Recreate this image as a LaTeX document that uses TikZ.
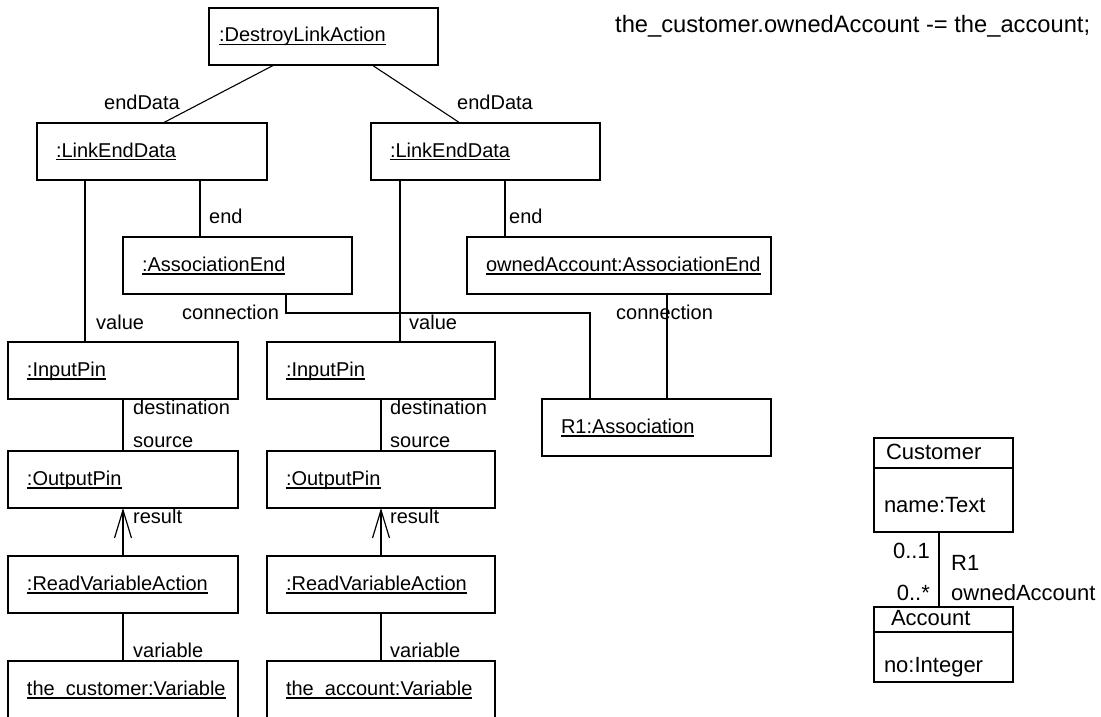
\documentclass[tikz,border=0pt]{standalone}
\usepackage{fontspec}
\setmainfont{Liberation Sans}
\usetikzlibrary{positioning,arrows.meta}

% underlined object name, line just under the baseline
\newsavebox\namebox
\newcommand\objname[1]{\sbox\namebox{#1}\rlap{\rule[-3.5pt]{\wd\namebox}{1.3pt}}\usebox\namebox}

\begin{document}
\begin{tikzpicture}[x=1pt,y=-1pt,
  obj/.style={draw, line width=1.8pt, anchor=north west, minimum height=57pt,
    inner xsep=19pt, inner ysep=0pt, outer sep=0pt, text width=#1, align=left,
    text height=15pt, text depth=4pt, font=\fontsize{20}{24}\selectfont},
  obj/.default=192pt,
  lbl/.style={anchor=base west, inner sep=0pt, font=\fontsize{20}{24}\selectfont},
  link/.style={line width=1.8pt},
  thinlink/.style={line width=1.1pt},
  clshead/.style={draw, line width=1.8pt, anchor=north west, minimum height=30pt,
    inner xsep=12pt, inner ysep=0pt, outer sep=0pt, text width=115pt, align=left,
    text height=17pt, text depth=4pt, font=\fontsize{22}{26}\selectfont},
  clsbody/.style={draw, line width=1.8pt, anchor=north west, inner xsep=10pt,
    inner ysep=0pt, outer sep=0pt, text width=119pt, align=left, text depth=4pt,
    font=\fontsize{22}{26}\selectfont},
  clslbl/.style={anchor=base west, inner sep=0pt, font=\fontsize{22}{26}\selectfont}]
\useasboundingbox[fill=white] (0,0) rectangle (1101,717);

\node[anchor=base west, inner sep=0pt, font=\fontsize{23.7}{28}\selectfont] (stmt) at (615,33)
  {the\_customer.ownedAccount -= the\_account;};

% action and its two link ends
\node[obj=209pt, inner xsep=10pt] (dla) at (209,8) {\objname{:DestroyLinkAction}};
\node[obj] (led1) at (37,123) {\objname{:LinkEndData}};
\node[obj=191pt] (led2) at (371,123) {\objname{:LinkEndData}};
\node[obj=191pt] (aend1) at (123,237) {\objname{:AssociationEnd}};
\node[obj=266pt] (aend2) at (467,237) {\objname{ownedAccount:AssociationEnd}};
\node[obj=191pt] (assoc) at (542,399) {\objname{R1:Association}};

% pins and variable reads, left column
\node[obj] (in1) at (8,342) {\objname{:InputPin}};
\node[obj] (out1) at (8,451) {\objname{:OutputPin}};
\node[obj] (rva1) at (8,556) {\objname{:ReadVariableAction}};
\node[obj] (var1) at (8,661) {\objname{the\_customer:Variable}};

% right column
\node[obj=190pt] (in2) at (267,342) {\objname{:InputPin}};
\node[obj=190pt] (out2) at (267,451) {\objname{:OutputPin}};
\node[obj=190pt] (rva2) at (267,556) {\objname{:ReadVariableAction}};
\node[obj=190pt] (var2) at (267,661) {\objname{the\_account:Variable}};

\draw[thinlink] ([xshift=65pt]dla.south west) -- ([xshift=126pt]led1.north west);
\draw[thinlink] ([xshift=163pt]dla.south west) -- ([xshift=89pt]led2.north west);
\node[lbl, anchor=base east] at (180,110) {endData};
\node[lbl] at (457,110) {endData};

\draw[link] ([xshift=48pt]led1.south west) -- ([xshift=48pt]led1.south west |- in1.north);
\draw[link] ([xshift=163pt]led1.south west) -- ([xshift=163pt]led1.south west |- aend1.north);
\draw[link] ([xshift=29pt]led2.south west) -- ([xshift=29pt]led2.south west |- in2.north);
\draw[link] ([xshift=134pt]led2.south west) -- ([xshift=134pt]led2.south west |- aend2.north);
\node[lbl] at (209,223) {end};
\node[lbl] at (509,223) {end};
\node[lbl] at (96,329) {value};
\node[lbl] at (409,329) {value};

\draw[link] ([xshift=163pt]aend1.south west) -- ++(0,19) -| ([xshift=48pt]assoc.north west);
\draw[link] ([xshift=200pt]aend2.south west) -- ([xshift=200pt]aend2.south west |- assoc.north);
\node[lbl] at (182,319) {connection};
\node[lbl] at (616,319) {connection};

\foreach \col/\lx in {1/133, 2/390} {
  \draw[link] (in\col.south) -- (out\col.north);
  \draw[link, -{Straight Barb[length=28pt, width=17pt, line width=1.2pt]}] (rva\col.north) -- (out\col.south);
  \draw[link] (rva\col.south) -- (var\col.north);
  \node[lbl] at (\lx,414) {destination};
  \node[lbl] at (\lx,447) {source};
  \node[lbl] at (\lx,523) {result};
  \node[lbl] at (\lx,657) {variable};
}

% class diagram
\node[clshead] (cust) at (874,438) {Customer};
\node[clsbody, minimum height=64pt, text height=28pt] (custattr) at (cust.south west) {name:Text};
\node[clshead, minimum height=25pt, inner xsep=17pt, text width=105pt, text height=16pt] (acc) at (874,607) {Account};
\node[clsbody, minimum height=50pt, text height=34pt] (accattr) at (acc.south west) {no:Integer};
\draw[link] ([xshift=65pt]custattr.south west) -- ([xshift=65pt]custattr.south west |- acc.north);
\node[clslbl, anchor=base east] at (930,558) {0..1};
\node[clslbl] at (951,570) {R1};
\node[clslbl, anchor=base east] at (930,600) {0..*};
\node[clslbl] at (951,600) {ownedAccount};
\end{tikzpicture}
\end{document}
